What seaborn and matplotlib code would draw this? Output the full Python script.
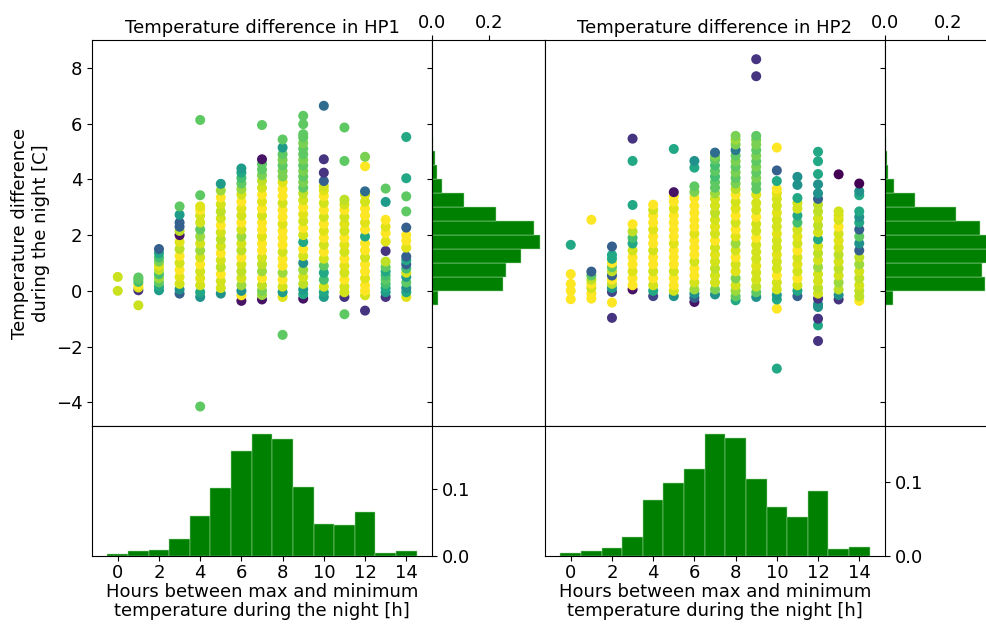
import matplotlib
matplotlib.use("Agg")
import matplotlib.pyplot as plt
import pandas as pd
import seaborn as sns

plt.rcParams["font.family"] = ["DejaVu Sans"]
plt.rcParams["font.size"] = 13

hours = [0, 1, 2, 3, 4, 5, 6, 7, 8, 9, 10, 11, 12, 13, 14]

# scatter values, one list per hour (temperature difference) and the colour value
hp1_diff = [
    [0.0, 0.5],
    [-0.52, 0.02, 0.12, 0.22, 0.32, 0.42, 0.48],
    [0.02, 0.15, 0.3, 0.45, 0.6, 0.75, 0.9, 1.05, 1.2, 1.35, 1.5],
    [-0.1, 0.05, 0.25, 0.5, 0.75, 1.0, 1.25, 1.5, 1.75, 2.0, 2.15, 2.3, 2.45, 2.73, 3.03],
    [-4.15, -0.22, -0.05, 0.2, 0.45, 0.7, 0.95, 1.2, 1.45, 1.7, 1.95, 2.2, 2.45, 2.7, 2.9, 3.03, 3.43, 6.13],
    [-0.1, 0.1, 0.35, 0.6, 0.85, 1.1, 1.35, 1.6, 1.85, 2.1, 2.35, 2.6, 2.85, 3.1, 3.35, 3.6, 3.84],
    [-0.36, -0.16, 0.0, 0.2, 0.45, 0.7, 0.95, 1.2, 1.45, 1.7, 1.95, 2.2, 2.45, 2.7, 2.95, 3.2, 3.45, 3.65, 3.85, 4.05, 4.24, 4.39],
    [-0.31, -0.15, 0.0, 0.2, 0.45, 0.7, 0.95, 1.2, 1.45, 1.7, 1.95, 2.2, 2.45, 2.7, 2.95, 3.2, 3.45, 3.7, 3.95, 4.15, 4.35, 4.55, 4.72, 5.95],
    [-1.58, -0.22, -0.05, 0.15, 0.4, 0.65, 0.9, 1.15, 1.4, 1.65, 1.9, 2.15, 2.4, 2.65, 2.9, 3.15, 3.4, 3.65, 3.9, 4.1, 4.3, 4.5, 4.7, 4.9, 5.14, 5.43],
    [-0.28, -0.12, 0.05, 0.25, 0.5, 0.75, 1.0, 1.25, 1.5, 1.75, 2.0, 2.25, 2.5, 2.75, 3.0, 3.25, 3.5, 3.7, 3.9, 4.1, 4.3, 4.5, 4.7, 4.9, 5.1, 5.3, 5.5, 5.62, 5.98, 6.28],
    [-0.22, -0.05, 0.15, 0.4, 0.65, 0.9, 1.15, 1.4, 1.65, 1.9, 2.15, 2.4, 2.65, 2.9, 3.15, 3.4, 3.6, 3.75, 3.94, 4.24, 4.72, 6.64],
    [-0.84, -0.22, -0.05, 0.15, 0.4, 0.65, 0.9, 1.15, 1.4, 1.65, 1.9, 2.15, 2.4, 2.65, 2.9, 3.1, 3.27, 4.66, 5.86],
    [-0.71, -0.16, 0.0, 0.2, 0.45, 0.7, 0.95, 1.2, 1.45, 1.7, 1.95, 2.2, 2.45, 2.7, 2.95, 3.2, 3.45, 3.57, 4.47, 4.81],
    [-0.22, -0.05, 0.1, 0.25, 0.4, 0.55, 0.7, 0.85, 1.05, 1.43, 1.77, 2.07, 2.3, 2.55, 3.19, 3.67],
    [-0.22, -0.05, 0.1, 0.3, 0.5, 0.65, 0.8, 0.95, 1.1, 1.23, 1.55, 1.8, 2.0, 2.27, 2.85, 3.39, 4.04, 5.52],
]
hp1_shade = [
    [0.92, 0.92],
    [0.92, 0.15, 0.95, 1.0, 0.7, 0.75, 0.75],
    [0.55, 0.6, 0.75, 0.85, 0.7, 0.9, 0.95, 0.8, 0.7, 0.6, 0.3],
    [0.3, 0.5, 0.93, 0.95, 1.0, 0.93, 1.0, 0.9, 0.95, 0.05, 0.9, 0.3, 0.3, 0.55, 0.75],
    [0.75, 0.5, 0.6, 0.93, 0.95, 0.93, 1.0, 0.93, 0.85, 0.93, 0.85, 0.75, 0.93, 0.93, 1.0, 0.95, 0.75, 0.75],
    [0.5, 0.93, 0.93, 1.0, 0.9, 0.93, 1.0, 0.93, 0.9, 0.93, 1.0, 0.93, 0.9, 0.93, 1.0, 0.85, 0.55],
    [0.05, 1.0, 0.5, 0.85, 0.93, 0.9, 0.93, 1.0, 0.9, 0.93, 0.85, 0.93, 1.0, 0.93, 0.95, 1.0, 0.93, 0.85, 0.75, 0.7, 0.6, 0.55],
    [0.05, 0.85, 0.8, 0.9, 1.0, 0.85, 0.9, 0.93, 1.0, 1.0, 0.95, 1.0, 1.0, 0.93, 1.0, 0.95, 1.0, 0.93, 0.9, 0.8, 0.75, 0.75, 0.05, 0.75],
    [0.75, 0.95, 0.55, 0.93, 1.0, 0.85, 1.0, 1.0, 0.93, 1.0, 1.0, 1.0, 0.95, 1.0, 1.0, 0.93, 1.0, 1.0, 0.95, 0.8, 0.8, 0.75, 0.8, 0.75, 0.55, 0.75],
    [0.05, 0.6, 0.55, 0.9, 0.93, 0.85, 0.5, 0.93, 1.0, 0.6, 0.93, 1.0, 0.93, 0.95, 1.0, 0.93, 0.9, 0.75, 0.8, 0.75, 0.8, 0.75, 0.8, 0.75, 0.75, 0.8, 0.75, 0.75, 0.75, 0.75],
    [0.55, 0.6, 0.93, 0.7, 0.6, 0.75, 0.93, 1.0, 0.93, 1.0, 0.95, 1.0, 0.93, 1.0, 0.93, 1.0, 0.95, 0.93, 0.3, 0.15, 0.15, 0.35],
    [0.75, 0.15, 0.93, 0.93, 1.0, 0.93, 0.95, 1.0, 0.93, 0.95, 1.0, 0.93, 0.95, 0.93, 1.0, 0.93, 0.9, 0.75, 0.75],
    [0.15, 0.93, 1.0, 1.0, 0.95, 1.0, 1.0, 0.93, 1.0, 1.0, 0.6, 1.0, 0.95, 1.0, 1.0, 0.93, 0.95, 0.35, 1.0, 0.8],
    [0.15, 0.55, 0.6, 0.7, 0.75, 0.7, 0.6, 0.75, 0.9, 0.15, 0.95, 1.0, 0.95, 1.0, 0.55, 0.75],
    [0.95, 0.6, 0.5, 0.75, 0.55, 0.93, 0.7, 0.3, 0.6, 0.3, 0.95, 1.0, 1.0, 0.3, 0.75, 0.75, 0.6, 0.6],
]

hp2_diff = [
    [-0.3, 0.0, 0.25, 0.6, 1.65],
    [-0.28, -0.1, 0.1, 0.25, 0.4, 0.55, 0.69, 2.55],
    [-0.97, -0.42, -0.04, 0.1, 0.25, 0.4, 0.55, 0.7, 0.85, 1.0, 1.15, 1.29, 1.59],
    [0.05, 0.2, 0.45, 0.7, 0.95, 1.2, 1.45, 1.7, 1.9, 2.13, 2.39, 3.08, 4.66, 5.46],
    [-0.19, 0.0, 0.2, 0.45, 0.7, 0.95, 1.2, 1.45, 1.7, 1.95, 2.2, 2.45, 2.7, 2.9, 3.09],
    [-0.19, 0.0, 0.2, 0.45, 0.7, 0.95, 1.2, 1.45, 1.7, 1.95, 2.2, 2.45, 2.7, 2.95, 3.2, 3.4, 3.54, 5.09],
    [-0.4, -0.25, -0.1, 0.05, 0.3, 0.55, 0.8, 1.05, 1.3, 1.55, 1.8, 2.05, 2.3, 2.55, 2.8, 3.05, 3.33, 3.55, 3.75, 4.42, 4.66],
    [-0.13, 0.05, 0.3, 0.55, 0.8, 1.05, 1.3, 1.55, 1.8, 2.05, 2.3, 2.55, 2.8, 3.05, 3.3, 3.5, 3.7, 3.9, 4.1, 4.3, 4.5, 4.7, 4.82, 4.96],
    [-0.34, -0.2, 0.0, 0.2, 0.45, 0.7, 0.95, 1.2, 1.45, 1.7, 1.95, 2.2, 2.45, 2.7, 2.95, 3.2, 3.45, 3.65, 3.85, 4.05, 4.25, 4.45, 4.65, 4.85, 5.05, 5.25, 5.42, 5.56],
    [-0.22, -0.05, 0.15, 0.4, 0.65, 0.9, 1.15, 1.4, 1.65, 1.9, 2.15, 2.4, 2.65, 2.9, 3.15, 3.45, 3.65, 3.85, 4.05, 4.25, 4.45, 4.65, 4.85, 5.05, 5.25, 5.42, 5.56, 7.7, 8.31],
    [-2.79, -0.64, -0.31, -0.15, 0.05, 0.3, 0.55, 0.8, 1.05, 1.3, 1.55, 1.8, 2.05, 2.3, 2.55, 2.8, 3.05, 3.3, 3.5, 3.66, 3.94, 4.32, 5.14],
    [-0.19, 0.0, 0.2, 0.45, 0.7, 0.95, 1.2, 1.45, 1.7, 1.95, 2.2, 2.45, 2.7, 2.95, 3.15, 3.33, 3.8, 4.09],
    [-1.8, -1.24, -1.0, -0.58, -0.48, -0.28, -0.1, 0.1, 0.35, 0.6, 0.85, 1.1, 1.35, 1.6, 1.85, 2.1, 2.35, 2.6, 2.85, 3.09, 3.3, 3.5, 3.82, 4.19, 4.65, 4.99],
    [-0.31, -0.15, 0.05, 0.3, 0.55, 0.8, 1.05, 1.3, 1.55, 1.8, 2.05, 2.3, 2.55, 2.7, 2.85, 4.18],
    [-0.36, -0.2, 0.0, 0.2, 0.45, 0.7, 0.95, 1.2, 1.45, 1.7, 1.95, 2.2, 2.45, 2.65, 2.85, 3.43, 3.57, 3.85],
]
hp2_shade = [
    [1.0, 1.0, 1.0, 1.0, 0.6],
    [1.0, 1.0, 0.93, 1.0, 0.9, 0.75, 0.3, 1.0],
    [0.15, 1.0, 0.2, 0.55, 0.9, 1.0, 0.3, 0.9, 0.75, 1.0, 0.6, 0.6, 0.3],
    [0.05, 1.0, 1.0, 0.95, 1.0, 1.0, 0.93, 0.6, 0.7, 0.9, 1.0, 0.6, 0.6, 0.15],
    [0.2, 0.6, 0.93, 1.0, 0.93, 1.0, 1.0, 0.93, 1.0, 1.0, 0.95, 1.0, 1.0, 0.93, 1.0],
    [0.5, 0.93, 1.0, 1.0, 0.93, 1.0, 1.0, 1.0, 0.95, 1.0, 1.0, 1.0, 1.0, 0.95, 1.0, 1.0, 0.05, 0.6],
    [0.05, 0.3, 0.5, 0.85, 0.93, 1.0, 1.0, 0.93, 1.0, 1.0, 1.0, 0.95, 1.0, 1.0, 1.0, 1.0, 1.0, 0.8, 0.75, 0.6, 0.5],
    [0.5, 0.8, 0.93, 0.93, 0.9, 0.93, 0.95, 0.93, 1.0, 0.93, 0.95, 0.93, 0.9, 0.93, 0.93, 0.85, 0.75, 0.75, 0.7, 0.75, 0.7, 0.75, 0.8, 0.35],
    [0.6, 0.75, 0.85, 0.93, 0.8, 0.95, 0.93, 1.0, 0.93, 0.85, 0.95, 1.0, 0.93, 1.0, 0.95, 0.93, 1.0, 0.9, 0.8, 0.75, 0.8, 0.75, 0.8, 0.75, 0.4, 0.8, 0.85, 0.8],
    [0.5, 0.75, 0.9, 0.93, 0.93, 0.95, 0.93, 0.93, 0.93, 1.0, 0.93, 0.93, 1.0, 0.93, 0.93, 0.95, 0.75, 0.75, 0.8, 0.75, 0.8, 0.75, 0.8, 0.75, 0.8, 0.8, 0.75, 0.15, 0.15],
    [0.6, 1.0, 0.6, 0.55, 0.93, 0.93, 1.0, 0.93, 0.93, 0.95, 0.93, 0.93, 0.95, 0.93, 0.93, 0.95, 0.93, 0.93, 0.95, 1.0, 0.6, 0.3, 1.0],
    [0.3, 0.6, 0.93, 1.0, 0.93, 0.95, 0.93, 1.0, 0.93, 0.95, 0.93, 0.7, 0.6, 0.93, 0.93, 0.6, 0.5, 0.5],
    [0.15, 0.6, 0.15, 0.5, 0.5, 0.15, 0.93, 0.9, 0.93, 0.93, 0.85, 0.93, 0.9, 0.93, 0.6, 0.93, 0.9, 0.93, 0.9, 0.9, 0.3, 0.5, 0.5, 0.6, 0.6, 0.6],
    [0.15, 0.5, 0.9, 0.85, 0.93, 0.9, 0.93, 0.9, 0.93, 0.95, 0.93, 1.0, 0.93, 0.95, 0.93, 0.0],
    [1.0, 0.9, 0.9, 0.93, 0.9, 0.93, 0.85, 0.9, 0.3, 0.5, 0.75, 0.3, 0.6, 0.5, 0.6, 0.6, 0.5, 0.0],
]

# histogram bins and densities
hour_edges = [-0.5, 0.5, 1.5, 2.5, 3.5, 4.5, 5.5, 6.5, 7.5, 8.5, 9.5, 10.5, 11.5, 12.5, 13.5, 14.5]
hp1_hour_density = [0.0025, 0.0075, 0.009, 0.025, 0.06, 0.1025, 0.1575, 0.1835, 0.1755,
                    0.103, 0.048, 0.046, 0.0665, 0.005, 0.0075]
hp2_hour_density = [0.0036, 0.0072, 0.0108, 0.0252, 0.0757, 0.0991, 0.1176, 0.1653, 0.1599,
                    0.1045, 0.0658, 0.0527, 0.0878, 0.0099, 0.0122]

diff_edges = [-0.5, 0.0, 0.5, 1.0, 1.5, 2.0, 2.5, 3.0, 3.5, 4.0, 4.5, 5.0, 5.5]
diff_centers = [-0.25, 0.25, 0.75, 1.25, 1.75, 2.25, 2.75, 3.25, 3.75, 4.25, 4.75, 5.25]
hp1_diff_density = [0.021, 0.249, 0.258, 0.313, 0.378, 0.357, 0.226, 0.112, 0.036, 0.018, 0.012, 0.0035]
hp2_diff_density = [0.024, 0.316, 0.305, 0.345, 0.34, 0.299, 0.223, 0.094, 0.028, 0.0105, 0.005, 0.002]


def to_frame(diff_lists, shade_lists):
    rows = []
    for h, ys, cs in zip(hours, diff_lists, shade_lists):
        for y, c in zip(ys, cs):
            rows.append({"hour": h, "diff": y, "shade": c})
    return pd.DataFrame(rows)


W, H = 987, 626
fig = plt.figure(figsize=(W / 100, H / 100), dpi=100)

panels = [
    ("HP1", 92, hp1_diff, hp1_shade, hp1_hour_density, hp1_diff_density, 0.396, 0.195),
    ("HP2", 545, hp2_diff, hp2_shade, hp2_hour_density, hp2_diff_density, 0.357, 0.176),
]

first = None
for name, left, dl, sl, hour_dens, diff_dens, rmax, bmax in panels:
    ax_s = fig.add_axes([left / W, (H - 426) / H, 340 / W, 386 / H], sharey=first)
    ax_r = fig.add_axes([(left + 340) / W, (H - 426) / H, 113 / W, 386 / H], sharey=ax_s)
    ax_b = fig.add_axes([left / W, (H - 556) / H, 340 / W, 130 / H], sharex=ax_s)
    if first is None:
        first = ax_s

    df = to_frame(dl, sl)
    sns.scatterplot(data=df, x="hour", y="diff", hue="shade", palette="viridis",
                    hue_norm=(0, 1), s=52, linewidth=0, legend=False, ax=ax_s)

    sns.histplot(y=diff_centers, weights=diff_dens, bins=diff_edges, color="green",
                 alpha=1, edgecolor="#a3d9a3", linewidth=0.35, ax=ax_r)
    sns.histplot(x=hours, weights=hour_dens, bins=hour_edges, color="green",
                 alpha=1, edgecolor="#a3d9a3", linewidth=0.35, ax=ax_b)

    ax_s.set_title(f"Temperature difference in {name}", fontsize=13, pad=5)
    ax_s.set_xlabel("")
    ax_s.tick_params(axis="x", bottom=False, labelbottom=False)
    if name == "HP1":
        ax_s.set_ylabel("Temperature difference\nduring the night [C]")
    else:
        ax_s.set_ylabel("")
        ax_s.tick_params(axis="y", left=False, labelleft=False)

    ax_r.set_xlim(0, rmax)
    ax_r.set_xticks([0, 0.2])
    ax_r.tick_params(axis="x", top=True, labeltop=True, bottom=False, labelbottom=False, pad=2)
    ax_r.tick_params(axis="y", labelleft=False)
    ax_r.set_xlabel("")
    ax_r.set_ylabel("")

    ax_b.set_ylim(0, bmax)
    ax_b.set_yticks([0, 0.1])
    ax_b.yaxis.tick_right()
    ax_b.set_ylabel("")
    ax_b.set_xticks([0, 2, 4, 6, 8, 10, 12, 14])
    ax_b.tick_params(axis="x", pad=2)
    ax_b.set_xlabel("Hours between max and minimum\ntemperature during the night [h]",
                    labelpad=1, linespacing=1.05)
    ax_b.set_xlim(-1.25, 15.25)

first.set_ylim(-4.85, 9.0)
first.set_yticks([-4, -2, 0, 2, 4, 6, 8])

fig.savefig("out.png", dpi=100)
